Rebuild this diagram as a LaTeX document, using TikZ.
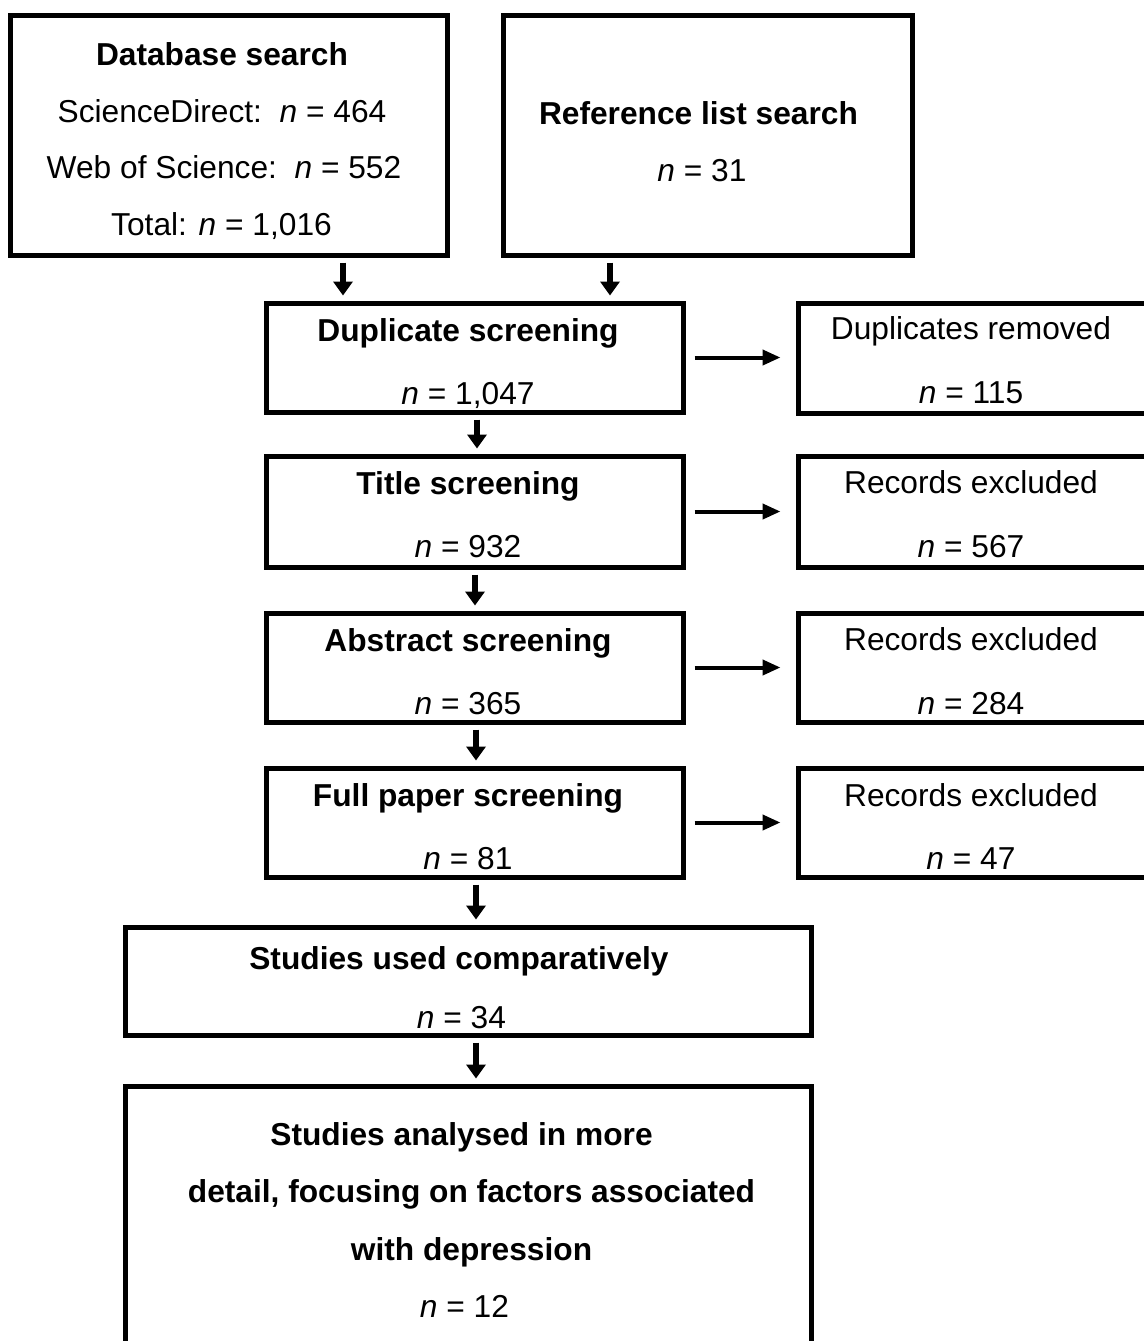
\documentclass[tikz,border=0pt]{standalone}
\usepackage{fontspec}
\setmainfont{Liberation Sans}
\usetikzlibrary{arrows.meta}
\begin{document}
\begin{tikzpicture}[x=0.5pt,y=-0.5pt,
  box/.style={draw=black,line width=2.5pt,inner sep=0pt,rectangle},
  txt/.style={anchor=base,inner sep=0pt,font=\fontsize{15.85pt}{19pt}\selectfont},
  varr/.style={line width=2.8pt,-{Triangle[length=7pt,width=9.5pt]},shorten <=2.5pt,shorten >=2.5pt},
  harr/.style={line width=2pt,-{Triangle[length=9pt,width=7.5pt]},shorten <=4.5pt,shorten >=7.5pt}]
\useasboundingbox (0,0) rectangle (1144,1341);
\clip (0,0) rectangle (1144,1341);
% boxes
\node[box,minimum width=218.5pt,minimum height=120pt] (db) at (228.5,135) {};
\node[box,minimum width=204.5pt,minimum height=120pt] (ref) at (707.5,135) {};
\node[box,minimum width=208.5pt,minimum height=54.5pt] (dup) at (474.5,357.5) {};
\node[box,minimum width=176pt,minimum height=55pt] (dupx) at (974,358) {};
\node[box,minimum width=208.5pt,minimum height=55.5pt] (tit) at (474.5,511.5) {};
\node[box,minimum width=176pt,minimum height=55.5pt] (titx) at (974,511.5) {};
\node[box,minimum width=208.5pt,minimum height=54.5pt] (abs) at (474.5,667.5) {};
\node[box,minimum width=176pt,minimum height=54.5pt] (absx) at (974,667.5) {};
\node[box,minimum width=208.5pt,minimum height=54.5pt] (full) at (474.5,822.5) {};
\node[box,minimum width=176pt,minimum height=54.5pt] (fullx) at (974,822.5) {};
\node[box,minimum width=343pt,minimum height=54pt] (stu) at (468,981) {};
\node[box,minimum width=343pt,minimum height=137pt] (last) at (468,1223) {};
% texts
\node[txt] (db1) at (222,65) {\textbf{Database search}};
\node[txt] (db2) at (222,122) {ScienceDirect:\ \ \textit{n} = 464};
\node[txt] (db3) at (224,178) {Web of Science:\ \ \textit{n} = 552};
\node[txt] (db4) at (221.5,235) {Total: \textit{n} = 1,016};
\node[txt] (ref1) at (698.5,124) {\textbf{Reference list search}};
\node[txt] (ref2) at (702,181) {\textit{n} = 31};
\node[txt] (dup1) at (468,341) {\textbf{Duplicate screening}};
\node[txt] (dup2) at (468,404) {\textit{n} = 1,047};
\node[txt] (dupx1) at (971,339) {Duplicates removed};
\node[txt] (dupx2) at (971,403) {\textit{n} = 115};
\node[txt] (tit1) at (468,494) {\textbf{Title screening}};
\node[txt] (tit2) at (468,557) {\textit{n} = 932};
\node[txt] (titx1) at (971,493) {Records excluded};
\node[txt] (titx2) at (971,557) {\textit{n} = 567};
\node[txt] (abs1) at (468,651) {\textbf{Abstract screening}};
\node[txt] (abs2) at (468,714) {\textit{n} = 365};
\node[txt] (absx1) at (971,650) {Records excluded};
\node[txt] (absx2) at (971,714) {\textit{n} = 284};
\node[txt] (full1) at (468,806) {\textbf{Full paper screening}};
\node[txt] (full2) at (468,869) {\textit{n} = 81};
\node[txt] (fullx1) at (971,806) {Records excluded};
\node[txt] (fullx2) at (971,869) {\textit{n} = 47};
\node[txt] (stu1) at (459,969) {\textbf{Studies used comparatively}};
\node[txt] (stu2) at (461.5,1028) {\textit{n} = 34};
\node[txt] (last1) at (461.5,1145) {\textbf{Studies analysed in more}};
\node[txt] (last2) at (471.5,1202.5) {\textbf{detail, focusing on factors associated}};
\node[txt] (last3) at (471.5,1260) {\textbf{with depression}};
\node[txt] (last4) at (464.5,1317.5) {\textit{n} = 12};
% arrow x positions
\coordinate (xa) at (343,0);
\coordinate (xb) at (610,0);
\coordinate (xc) at (477,0);
\coordinate (xd) at (475,0);
\coordinate (xe) at (476,0);
% vertical arrows
\draw[varr] (db.south -| xa) -- (dup.north -| xa);
\draw[varr] (ref.south -| xb) -- (dup.north -| xb);
\draw[varr] (dup.south -| xc) -- (tit.north -| xc);
\draw[varr] (tit.south -| xd) -- (abs.north -| xd);
\draw[varr] (abs.south -| xe) -- (full.north -| xe);
\draw[varr] (full.south -| xe) -- (stu.north -| xe);
\draw[varr] (stu.south -| xe) -- (last.north -| xe);
% horizontal arrows
\draw[harr] (dup.east) -- (dupx.west |- dup.east);
\draw[harr] (tit.east) -- (titx.west |- tit.east);
\draw[harr] (abs.east) -- (absx.west |- abs.east);
\draw[harr] (full.east) -- (fullx.west |- full.east);
\end{tikzpicture}
\end{document}
